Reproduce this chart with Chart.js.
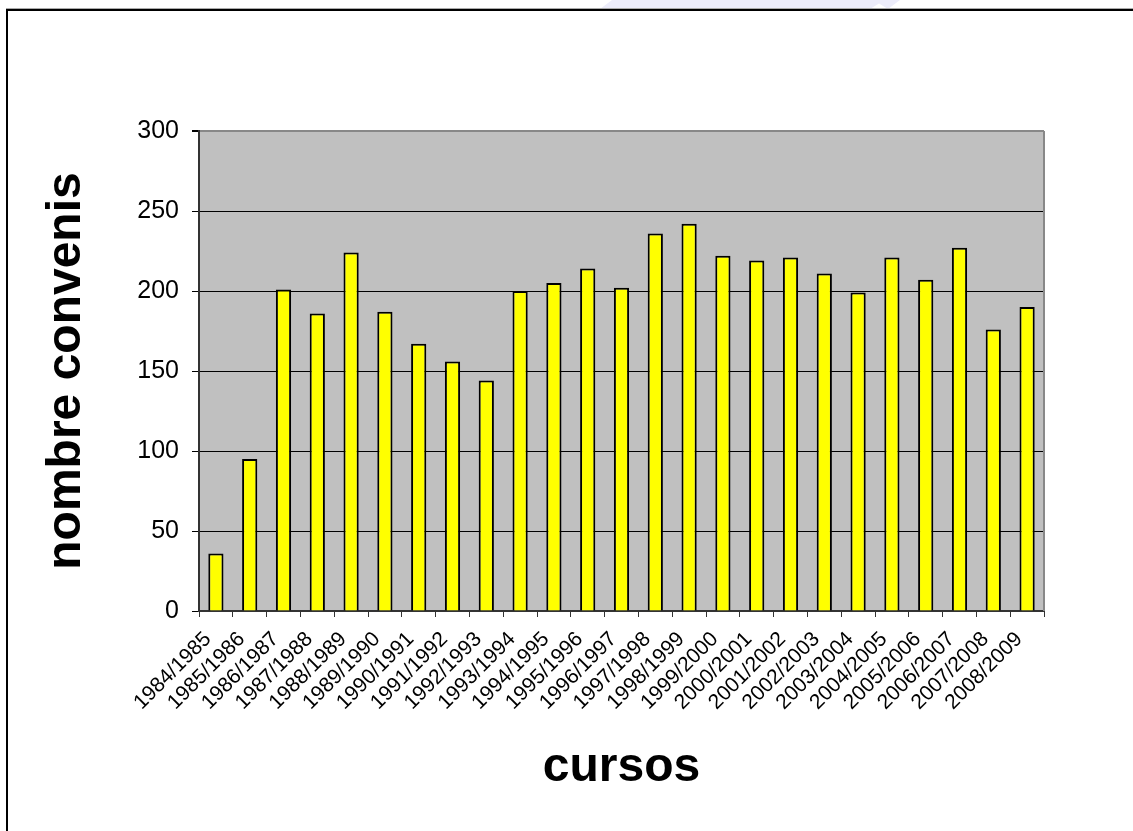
<!DOCTYPE html>
<html>
<head>
<meta charset="utf-8">
<script src="https://cdn.jsdelivr.net/npm/chart.js@4"></script>
<style>
  html, body { margin: 0; padding: 0; background: #fff; overflow: hidden; }
  #wrap { position: relative; width: 1133px; height: 831px; }
  #frame {
    position: absolute; left: 6px; top: 9px; width: 1300px; height: 1000px;
    border-top: 2px solid #000; border-left: 2px solid #000;
    box-shadow: 0 -1px 0 #aaa; pointer-events: none;
  }
  #deco {
    position: absolute; left: 600px; top: 0; width: 300px; height: 9px;
    background: #ececfa;
    clip-path: polygon(4% 0, 100% 0, 96% 100%, 93% 40%, 90% 100%, 0 100%);
  }
</style>
</head>
<body>
<div id="wrap">
  <div id="deco"></div>
  <canvas id="chart" width="1133" height="831"></canvas>
  <div id="frame"></div>
</div>
<script>
// school years on the x axis
const cursos = [
  "1984/1985", "1985/1986", "1986/1987", "1987/1988", "1988/1989",
  "1989/1990", "1990/1991", "1991/1992", "1992/1993", "1993/1994",
  "1994/1995", "1995/1996", "1996/1997", "1997/1998", "1998/1999",
  "1999/2000", "2000/2001", "2001/2002", "2002/2003", "2003/2004",
  "2004/2005", "2005/2006", "2006/2007", "2007/2008", "2008/2009",
];

// number of agreements per year
const convenis = [
  36, 95, 201, 186, 224, 187, 167, 156, 144, 200,
  205, 214, 202, 236, 242, 222, 219, 221, 211, 199,
  221, 207, 227, 176, 190,
];

const Y_MIN = 0;
const Y_MAX = 300;
const Y_STEP = 50;

// grey plot background + grey right border, like the old Excel chart
const plotBackground = {
  id: "plotBackground",
  beforeDraw(chart) {
    const { ctx, chartArea: a } = chart;
    ctx.save();
    ctx.fillStyle = "#c0c0c0";
    ctx.fillRect(a.left, a.top, a.right - a.left, a.bottom - a.top);
    ctx.restore();
  },
  afterDraw(chart) {
    const { ctx, chartArea: a } = chart;
    ctx.save();
    ctx.strokeStyle = "#888";
    ctx.lineWidth = 2;
    ctx.beginPath();
    ctx.moveTo(a.right, a.top);
    ctx.lineTo(a.right, a.bottom);
    ctx.stroke();
    ctx.restore();
  },
};

new Chart(document.getElementById("chart"), {
  type: "bar",
  data: {
    labels: cursos,
    datasets: [
      {
        label: "nombre convenis",
        data: convenis,
        backgroundColor: "#ffff00",
        borderColor: "#000",
        borderWidth: 2,
        categoryPercentage: 1.0,
        barPercentage: 0.45,
      },
    ],
  },
  options: {
    responsive: false,
    animation: false,
    layout: { padding: { top: 131, right: 89, bottom: 0, left: 0 } },
    plugins: {
      legend: { display: false },
      tooltip: { enabled: false },
    },
    scales: {
      x: {
        afterFit: (scale) => { scale.height = 220; },
        border: { color: "#333", width: 2 },
        grid: {
          drawOnChartArea: false,
          offset: true,
          tickLength: 6,
          tickColor: "#333",
        },
        ticks: {
          autoSkip: false,
          maxRotation: 45,
          minRotation: 45,
          padding: 10,
          labelOffset: -8,
          color: "#000",
          font: { family: "Arial, 'Liberation Sans', sans-serif", size: 21 },
        },
        title: {
          display: true,
          text: "cursos",
          color: "#000",
          padding: { top: 0, bottom: 34 },
          font: { family: "Arial, 'Liberation Sans', sans-serif", size: 48, weight: "bold" },
        },
      },
      y: {
        min: Y_MIN,
        max: Y_MAX,
        afterFit: (scale) => { scale.width = 199; },
        border: { color: "#333", width: 2 },
        grid: {
          color: (ctx) => (ctx.tick && ctx.tick.value === Y_MAX ? "#888" : "#000"),
          lineWidth: (ctx) => (ctx.tick && ctx.tick.value === Y_MAX ? 2 : 1),
          tickLength: 7,
          tickColor: "#000",
        },
        ticks: {
          stepSize: Y_STEP,
          padding: 13,
          color: "#000",
          font: { family: "Arial, 'Liberation Sans', sans-serif", size: 25 },
        },
        title: {
          display: true,
          text: "nombre convenis",
          color: "#000",
          padding: { top: 38, bottom: 0 },
          font: { family: "Arial, 'Liberation Sans', sans-serif", size: 48, weight: "bold" },
        },
      },
    },
  },
  plugins: [plotBackground],
});
</script>
</body>
</html>
